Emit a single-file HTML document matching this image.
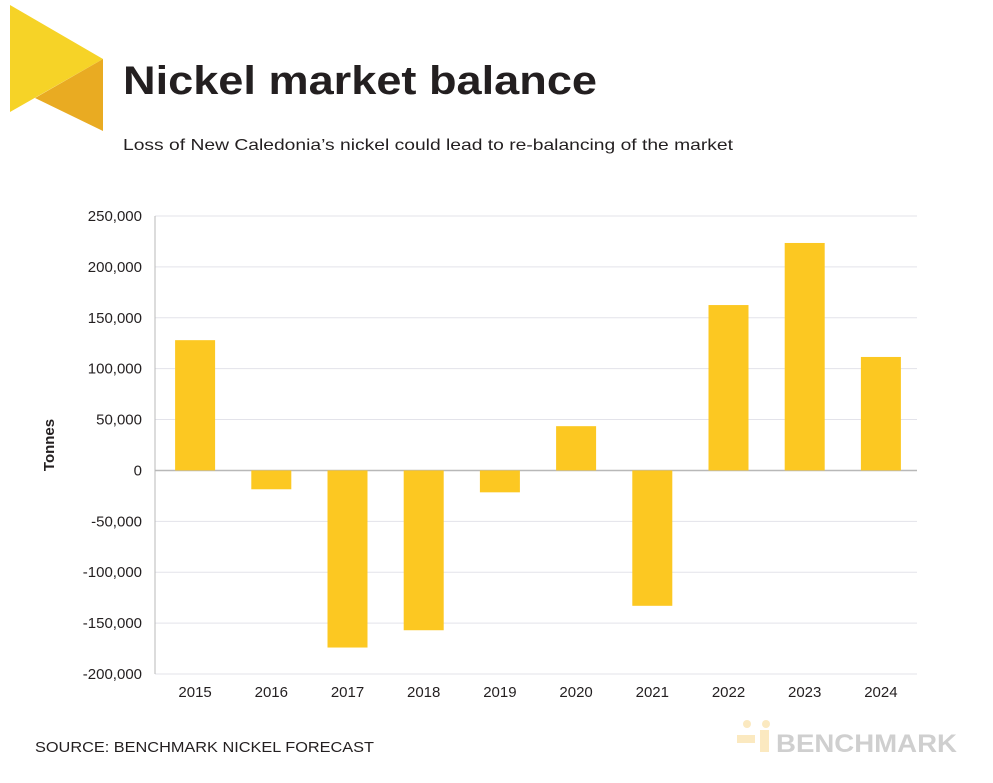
<!DOCTYPE html>
<html><head><meta charset="utf-8"><style>
body{margin:0;background:#fff;width:993px;height:778px;overflow:hidden;font-family:"Liberation Sans",sans-serif;}
</style></head><body>
<svg width="993" height="778" xmlns="http://www.w3.org/2000/svg">
<g>
<polygon points="10,5 103,59 10,112" fill="#f6d327"/>
<polygon points="35,98 103,59 103,131" fill="#e9ab22"/>
</g>
<text x="123" y="94" font-size="40" font-weight="bold" fill="#231f20" textLength="474" lengthAdjust="spacingAndGlyphs">Nickel market balance</text>
<text x="123" y="150" font-size="16" fill="#231f20" textLength="610" lengthAdjust="spacingAndGlyphs">Loss of New Caledonia’s nickel could lead to re-balancing of the market</text>
<g id="grid"></g>
<g id="bars"></g>
<g id="xl"></g>
<text transform="translate(54,445) rotate(-90)" text-anchor="middle" font-size="15" font-weight="bold" fill="#231f20">Tonnes</text>
<text x="35" y="752" font-size="15" fill="#231f20" textLength="339" lengthAdjust="spacingAndGlyphs">SOURCE: BENCHMARK NICKEL FORECAST</text>
<g>
<circle cx="747" cy="724" r="4" fill="#fbe9c0"/><circle cx="766" cy="724" r="4" fill="#fbe9c0"/>
<rect x="760" y="730" width="9" height="22" fill="#fbe9c0"/><rect x="737" y="735" width="18" height="8" fill="#fbe9c0"/>
<text x="776" y="752" font-size="25" font-weight="bold" fill="#cfcfcf" textLength="181" lengthAdjust="spacingAndGlyphs">BENCHMARK</text>
</g>
</svg>
<script>
const categories=["2015","2016","2017","2018","2019","2020","2021","2022","2023","2024"];
const values=[128000,-18500,-174000,-157000,-21500,43500,-133000,162500,223500,111500];
const ticks=[250000,200000,150000,100000,50000,0,-50000,-100000,-150000,-200000];
const tickLabels=["250,000","200,000","150,000","100,000","50,000","0","-50,000","-100,000","-150,000","-200,000"];
const NS="http://www.w3.org/2000/svg";
const x0=155,x1=917,yTop=216,yBot=674,vMax=250000,vMin=-200000;
const y=v=>yTop+(vMax-v)/(vMax-vMin)*(yBot-yTop);
const band=(x1-x0)/categories.length;
const xc=i=>x0+2+band*(i+0.5);
function mk(t,a){const e=document.createElementNS(NS,t);for(const k in a)e.setAttribute(k,a[k]);return e;}
const g=document.getElementById('grid'),b=document.getElementById('bars'),xl=document.getElementById('xl');
ticks.forEach((t,i)=>{
 const l=mk('line',{x1:x0,x2:x1,y1:y(t),y2:y(t),stroke:t===0?'#b8b8b8':'#e3e3ea','stroke-width':t===0?1.5:1});
 
 
 g.appendChild(l);
 const tx=mk('text',{x:142,y:y(t)+5,'text-anchor':'end','font-size':15,fill:'#231f20'});
 tx.textContent=tickLabels[i];
 
 
 g.appendChild(tx);
});
const ax=mk('line',{x1:x0,x2:x0,y1:yTop,y2:yBot,stroke:'#b8b8b8'});


g.appendChild(ax);
categories.forEach((c,i)=>{
 const v=values[i],top=Math.min(y(v),y(0)),h=Math.abs(y(v)-y(0));
 const r=mk('rect',{x:xc(i)-20,y:top,width:40,height:h,fill:'#fcc822'});
 
 
 b.appendChild(r);
 const t=mk('text',{x:xc(i),y:697,'text-anchor':'middle','font-size':15,fill:'#231f20'});
 t.textContent=c;
 
 
 xl.appendChild(t);
});
</script>
</body></html>
